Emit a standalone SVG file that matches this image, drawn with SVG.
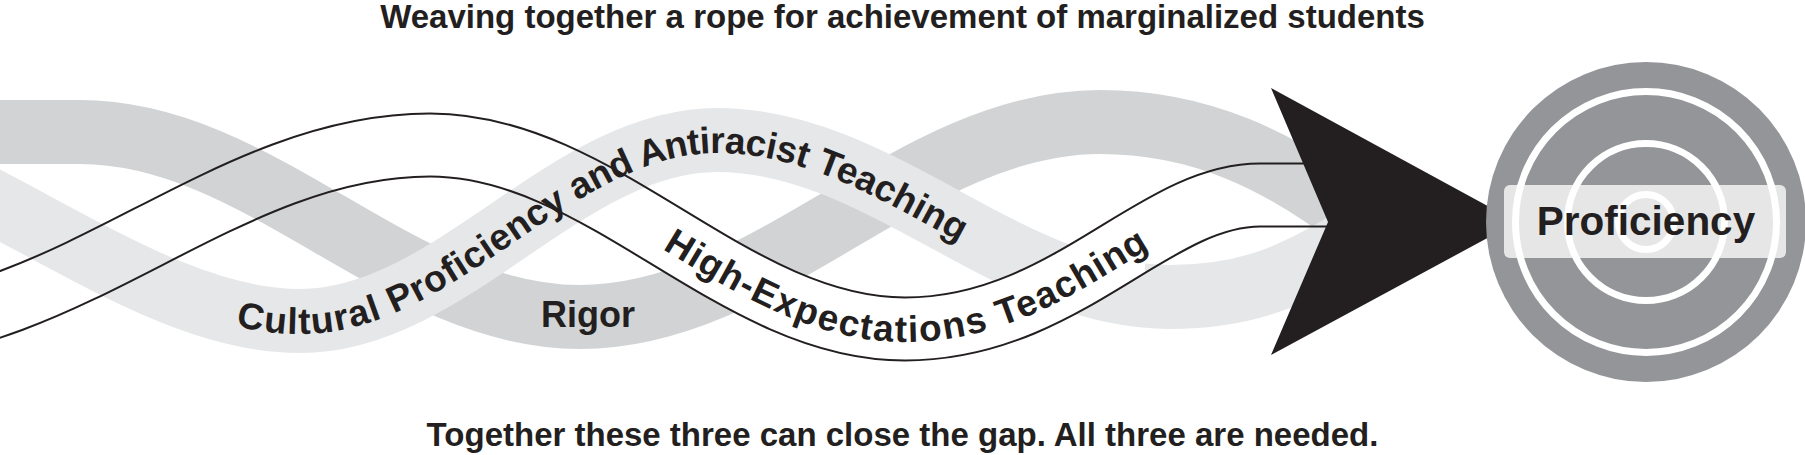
<svg xmlns="http://www.w3.org/2000/svg" xmlns:xlink="http://www.w3.org/1999/xlink" width="1805" height="455" viewBox="0 0 1805 455">
<style>
.t{font-family:"Liberation Sans",Arial,Helvetica,sans-serif;font-weight:bold;fill:#231f20}
.band{fill:none;stroke-linecap:butt}
</style>
<defs>
<path id="pRigor" d="M -60,132 L 80,132 C 262,132 398,317 580,317 C 769,317 911,122 1100,122 C 1200,122 1280,160 1360,222"/>
<path id="pCult" d="M -40,185 C 80,245 190,321 300,321 C 451,321 566,140 717,140 C 881,140 1006,297 1170,297 C 1240,297 1290,280 1360,235"/>
<path id="pHigh" d="M -134,329 C 71,329 225,145 430,145 C 602.5,145 732.5,329 905,329 C 1065,329 1153,195 1260,195 L 1380,195"/>
<mask id="ringMask" maskUnits="userSpaceOnUse" x="-200" y="0" width="2100" height="455">
<use xlink:href="#pHigh" fill="none" stroke="#fff" stroke-width="65"/>
<use xlink:href="#pHigh" fill="none" stroke="#000" stroke-width="61"/>
</mask>
<clipPath id="highClip"><rect x="655" y="0" width="490" height="455"/></clipPath>
</defs>
<rect x="0" y="0" width="1805" height="455" fill="#fff"/>
<g id="title"><text class="t" x="902.5" y="28" font-size="33" text-anchor="middle">Weaving together a rope for achievement of marginalized students</text></g>
<g id="strand-rigor">
<use xlink:href="#pRigor" class="band" stroke="#d1d3d4" stroke-width="64"/>
<text class="t" x="588" y="327" font-size="36" text-anchor="middle">Rigor</text>
</g>
<g id="strand-cultural">
<use xlink:href="#pCult" class="band" stroke="#e6e7e8" stroke-width="64"/>
<text class="t" font-size="37" dominant-baseline="central"><textPath xlink:href="#pCult" startOffset="307" textLength="792" lengthAdjust="spacing">Cultural Proficiency and Antiracist Teaching</textPath></text>
</g>
<g id="strand-high">
<use xlink:href="#pHigh" class="band" stroke="#fff" stroke-width="62" clip-path="url(#highClip)"/>
<rect x="-200" y="0" width="2100" height="455" fill="#231f20" mask="url(#ringMask)"/>
<text class="t" font-size="37" dominant-baseline="central"><textPath xlink:href="#pHigh" startOffset="859" textLength="515" lengthAdjust="spacing">High-Expectations Teaching</textPath></text>
</g>
<g id="arrow"><polygon points="1271,88 1517,222 1271,355 1328,222" fill="#231f20"/></g>
<g id="target-proficiency">
<circle cx="1646" cy="222" r="160" fill="#939598"/>
<circle cx="1646" cy="222" r="130.5" fill="none" stroke="#fff" stroke-width="7"/>
<circle cx="1646" cy="222" r="78.5" fill="none" stroke="#fff" stroke-width="7"/>
<circle cx="1646" cy="222" r="27.5" fill="none" stroke="#fff" stroke-width="7"/>
<rect x="1504" y="185" width="282" height="73" rx="6" fill="#fff" fill-opacity="0.77"/>
<text class="t" x="1646" y="235" font-size="40.5" text-anchor="middle">Proficiency</text>
</g>
<g id="caption"><text class="t" x="902.5" y="446" font-size="33" text-anchor="middle">Together these three can close the gap. All three are needed.</text></g>
</svg>
